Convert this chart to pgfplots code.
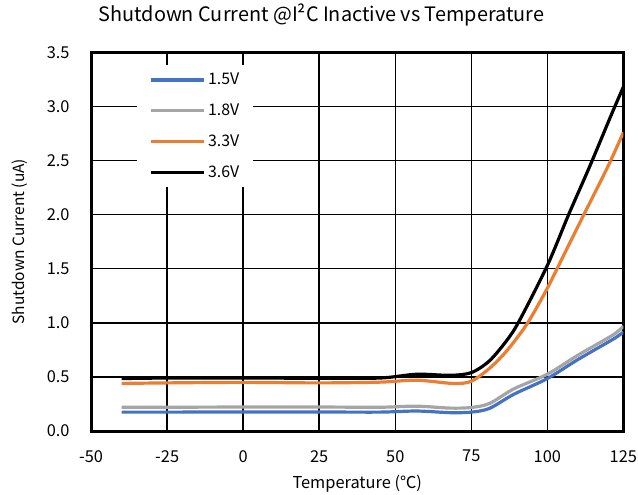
\documentclass[border=0pt]{standalone}
\usepackage{fontspec}
\setmainfont{Noto Sans CJK SC}
\usepackage{pgfplots}
\pgfplotsset{compat=1.18}
\definecolor{cblue}{HTML}{4472C4}
\definecolor{cgray}{HTML}{A5A5A5}
\definecolor{corange}{HTML}{ED7D31}
\begin{document}
\begin{tikzpicture}
  \begin{axis}[
    scale only axis,
    width=534bp, height=380bp,
    xmin=-50, xmax=125, ymin=0, ymax=3.5,
    xtick={-50,-25,...,125},
    ytick={0,0.5,...,3.5},
    yticklabel style={/pgf/number format/fixed, /pgf/number format/fixed zerofill, /pgf/number format/precision=1, inner sep=0pt, xshift=-21.5bp},
    xticklabel style={inner ysep=0pt, inner xsep=1bp, yshift=-19bp},
    /pgf/number format/assume math mode=true,
    major tick length=0pt,
    grid=major,
    major grid style={black, line width=1.5bp},
    axis line style={black, line width=3bp},
    tick label style={font=\fontsize{16.5}{18}\selectfont},
    xlabel={Temperature (℃)},
    ylabel={Shutdown Current (uA)},
    xlabel style={font=\fontsize{16.5}{18}\selectfont, at={(axis description cs:0.5,-0.138)}, anchor=center, inner ysep=3bp},
    ylabel style={font=\fontsize{15.6}{17}\selectfont, at={(axis description cs:-0.134,0.5)}, anchor=center, inner ysep=12bp},
    title={Shutdown Current @I²C Inactive vs Temperature},
    title style={font=\fontsize{20}{22}\selectfont, at={(axis description cs:0.4326,1.0825)}, anchor=center, inner ysep=4bp},
    legend style={at={(0.086,0.966)}, anchor=north west, fill=white, draw=none,
      font=\fontsize{16}{18}\selectfont, row sep=13.8bp, inner xsep=12bp, inner ysep=6bp},
    legend cell align=left,
    legend image code/.code={\draw[#1] (0bp,0bp) -- (54bp,0bp);},
    every axis plot/.append style={line width=3.2bp, smooth, tension=0.5},
  ]
    \addplot[cblue] coordinates {(-40,0.175) (-25,0.175) (0,0.176) (25,0.176) (45,0.175) (57,0.185) (68,0.17) (75,0.175) (81,0.21) (89,0.34) (100,0.485) (110,0.66) (121.7,0.85) (125,0.915)};
    \addlegendentry{1.5V}
    \addplot[cgray] coordinates {(-40,0.22) (-25,0.22) (0,0.222) (25,0.222) (45,0.22) (57,0.23) (68,0.212) (75,0.218) (81,0.255) (89,0.39) (100,0.525) (110,0.7) (121.7,0.89) (125,0.97)};
    \addlegendentry{1.8V}
    \addplot[corange] coordinates {(-40,0.44) (-25,0.445) (0,0.45) (25,0.445) (45,0.452) (57,0.47) (69,0.44) (75,0.46) (81,0.58) (86,0.72) (90,0.86) (94,1.02) (100,1.32) (106,1.66) (112,2.0) (120,2.45) (125,2.76)};
    \addlegendentry{3.3V}
    \addplot[black] coordinates {(-40,0.485) (-25,0.49) (0,0.49) (25,0.488) (45,0.49) (57,0.525) (68,0.515) (75,0.54) (81,0.65) (87,0.85) (91,1.03) (100,1.53) (107,2.0) (114,2.45) (121,2.92) (125,3.18)};
    \addlegendentry{3.6V}
  \end{axis}
\end{tikzpicture}
\end{document}
